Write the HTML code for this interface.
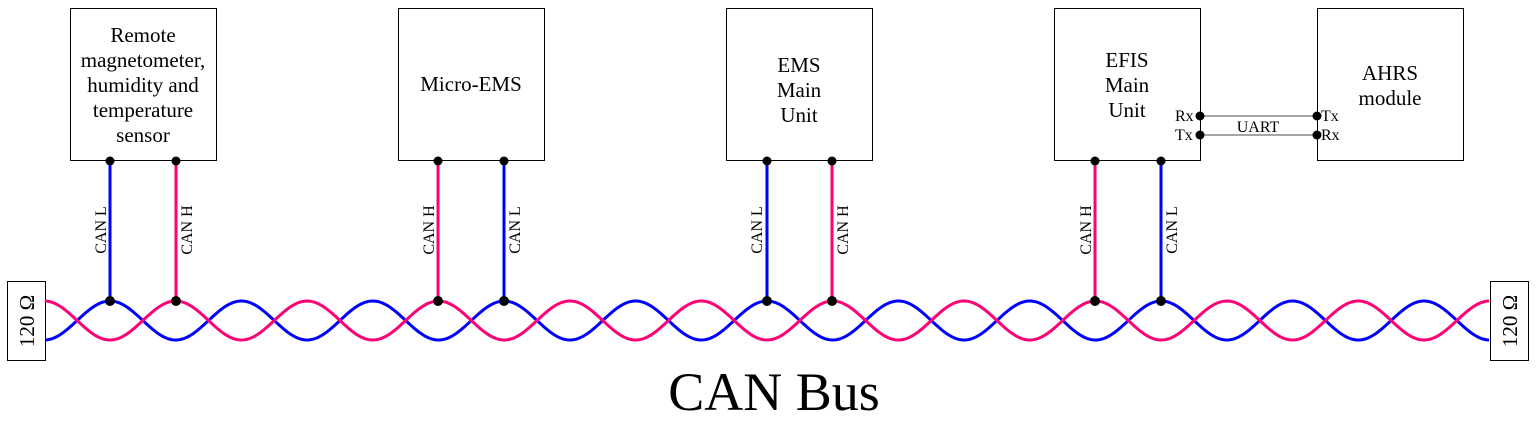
<!DOCTYPE html>
<html><head><style>body{margin:0;background:#fff}svg{display:block}text{font-family:"Liberation Serif",serif;fill:#000}</style></head>
<body>
<svg id="s" width="1536" height="421" viewBox="0 0 1536 421" xmlns="http://www.w3.org/2000/svg">
<g fill="#fff" stroke="#000" stroke-width="1">
<rect x="70.5" y="8.5" width="146" height="152"/>
<rect x="398.5" y="8.5" width="146" height="152"/>
<rect x="726.5" y="8.5" width="146" height="152"/>
<rect x="1054.5" y="8.5" width="146" height="152"/>
<rect x="1317.5" y="8.5" width="146" height="152"/>
<rect x="7.5" y="281.5" width="38" height="79"/>
<rect x="1490.5" y="281.5" width="38" height="79"/>
</g>
<g font-size="21" text-anchor="middle">
<text x="143" y="42">Remote</text><text x="143" y="67">magnetometer,</text><text x="143" y="92">humidity and</text><text x="143" y="117">temperature</text><text x="143" y="142">sensor</text>
<text x="471" y="91">Micro-EMS</text>
<text x="799" y="72">EMS</text><text x="799" y="97">Main</text><text x="799" y="122">Unit</text>
<text x="1127" y="67">EFIS</text><text x="1127" y="92">Main</text><text x="1127" y="117">Unit</text>
<text x="1390" y="80">AHRS</text><text x="1390" y="105">module</text>
</g>
<g stroke="#888" stroke-width="1.5"><line x1="1200" y1="116" x2="1317" y2="116"/><line x1="1200" y1="135" x2="1317" y2="135"/></g>
<g font-size="16"><text x="1175" y="121">Rx</text><text x="1175" y="140">Tx</text><text x="1321" y="121">Tx</text><text x="1321" y="140">Rx</text><text x="1258" y="132" text-anchor="middle">UART</text></g>
<path id="blue" fill="none" stroke="#00f" stroke-width="3"/>
<path id="pink" fill="none" stroke="#f07" stroke-width="3"/>
<g stroke-width="3">
<line x1="110" y1="160" x2="110" y2="301" stroke="#00f"/>
<line x1="176" y1="160" x2="176" y2="301" stroke="#f07"/>
<line x1="438" y1="160" x2="438" y2="301" stroke="#f07"/>
<line x1="504" y1="160" x2="504" y2="301" stroke="#00f"/>
<line x1="767" y1="160" x2="767" y2="301" stroke="#00f"/>
<line x1="832" y1="160" x2="832" y2="301" stroke="#f07"/>
<line x1="1095" y1="160" x2="1095" y2="301" stroke="#f07"/>
<line x1="1161" y1="160" x2="1161" y2="301" stroke="#00f"/>
</g>
<g fill="#000">
<circle cx="110" cy="161" r="4.5"/><circle cx="176" cy="161" r="4.5"/><circle cx="438" cy="161" r="4.5"/><circle cx="504" cy="161" r="4.5"/>
<circle cx="767" cy="161" r="4.5"/><circle cx="832" cy="161" r="4.5"/><circle cx="1095" cy="161" r="4.5"/><circle cx="1161" cy="161" r="4.5"/>
<circle cx="110" cy="301" r="5"/><circle cx="176" cy="301" r="5"/><circle cx="438" cy="301" r="5"/><circle cx="504" cy="301" r="5"/>
<circle cx="767" cy="301" r="5"/><circle cx="832" cy="301" r="5"/><circle cx="1095" cy="301" r="5"/><circle cx="1161" cy="301" r="5"/>
<circle cx="1200" cy="116" r="4.5"/><circle cx="1200" cy="135" r="4.5"/><circle cx="1317" cy="116" r="4.5"/><circle cx="1317" cy="135" r="4.5"/>
</g>
<g font-size="16" text-anchor="middle">
<text transform="translate(106,230) rotate(-90)">CAN L</text>
<text transform="translate(192,230) rotate(-90)">CAN H</text>
<text transform="translate(434,230) rotate(-90)">CAN H</text>
<text transform="translate(520,230) rotate(-90)">CAN L</text>
<text transform="translate(762,230) rotate(-90)">CAN L</text>
<text transform="translate(848,230) rotate(-90)">CAN H</text>
<text transform="translate(1091,230) rotate(-90)">CAN H</text>
<text transform="translate(1177,230) rotate(-90)">CAN L</text>
</g>
<g font-size="21" text-anchor="middle">
<text transform="translate(34,321) rotate(-90)">120 Ω</text>
<text transform="translate(1517,321) rotate(-90)">120 Ω</text>
</g>
<text x="774" y="410" font-size="54" text-anchor="middle">CAN Bus</text>
</svg>
<script>
function mk(sign){var d="";for(var x=45;x<=1490;x+=2){var y=320.5-sign*19.5*Math.cos(Math.PI*(x-110)/65.7);d+=(x==45?"M":"L")+x+" "+y.toFixed(2)+" ";}return d;}
document.getElementById("blue").setAttribute("d",mk(1));
document.getElementById("pink").setAttribute("d",mk(-1));
</script>
</body></html>
